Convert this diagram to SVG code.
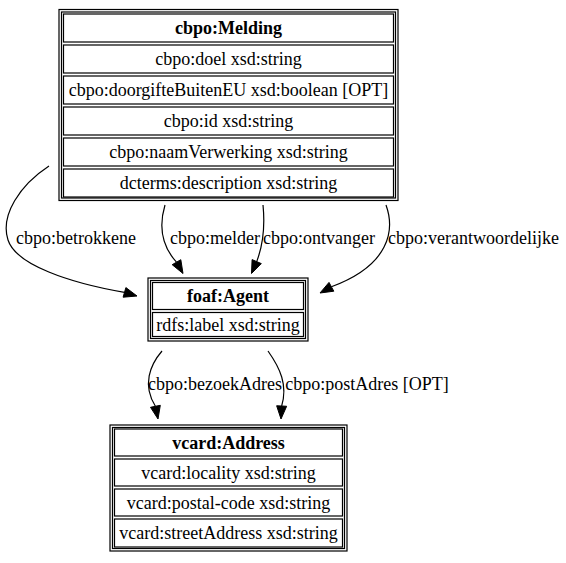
<svg xmlns="http://www.w3.org/2000/svg" width="566" height="563" viewBox="0 0 566 563">
<style>
text{font-family:"Liberation Serif","Times New Roman",serif;font-size:18px;fill:#000;text-anchor:middle}
.h{font-weight:bold}
.o{fill:#fff;stroke:#000;stroke-width:1.2}
.c{fill:none;stroke:#000;stroke-width:1.2}
.e{fill:none;stroke:#000;stroke-width:1.2}
.a{fill:#000;stroke:#000;stroke-width:1}
</style>
<rect width="566" height="563" fill="#fff"/>
<g id="melding">
<rect class="o" x="59" y="9.5" width="339" height="191"/>
<rect class="c" x="61.5" y="12" width="334" height="186"/>
<rect class="c" x="63.5" y="14" width="330" height="28"/>
<rect class="c" x="63.5" y="45" width="330" height="28"/>
<rect class="c" x="63.5" y="76" width="330" height="28"/>
<rect class="c" x="63.5" y="107" width="330" height="28"/>
<rect class="c" x="63.5" y="138" width="330" height="28"/>
<rect class="c" x="63.5" y="169" width="330" height="28"/>
<text class="h" x="228.5" y="34">cbpo:Melding</text>
<text x="228.5" y="65">cbpo:doel xsd:string</text>
<text x="228.5" y="96">cbpo:doorgifteBuitenEU xsd:boolean [OPT]</text>
<text x="228.5" y="127">cbpo:id xsd:string</text>
<text x="228.5" y="158">cbpo:naamVerwerking xsd:string</text>
<text x="228.5" y="189">dcterms:description xsd:string</text>
</g>
<g id="agent">
<rect class="o" x="148" y="278" width="160" height="63"/>
<rect class="c" x="150.5" y="280.5" width="155" height="58"/>
<rect class="c" x="152.5" y="282.5" width="151" height="27"/>
<rect class="c" x="152.5" y="312.5" width="151" height="24"/>
<text class="h" x="228" y="302">foaf:Agent</text>
<text x="228" y="331">rdfs:label xsd:string</text>
</g>
<g id="address">
<rect class="o" x="110" y="425" width="237" height="126"/>
<rect class="c" x="112.5" y="427.5" width="232" height="121"/>
<rect class="c" x="114.5" y="429" width="228" height="27"/>
<rect class="c" x="114.5" y="459" width="228" height="27"/>
<rect class="c" x="114.5" y="489" width="228" height="27"/>
<rect class="c" x="114.5" y="519" width="228" height="28"/>
<text class="h" x="228.5" y="448.5">vcard:Address</text>
<text x="228.5" y="478.5">vcard:locality xsd:string</text>
<text x="228.5" y="508.5">vcard:postal-code xsd:string</text>
<text x="228.5" y="539">vcard:streetAddress xsd:string</text>
</g>
<g id="connectors">
<path class="e" d="M49,166 C20,185 0,215 8,240 C16,265 70,283 124.5,292.4"/>
<polygon class="a" points="137,296 123.1,297.2 125.9,287.6"/>
<path class="e" d="M165,205 C159,225 161,245 176.5,262.2"/>
<polygon class="a" points="183,273.5 172.2,264.7 180.8,259.7"/>
<path class="e" d="M263,205 C265,225 263,245 256.7,261.6"/>
<polygon class="a" points="251.5,273.5 252.1,259.6 261.3,263.6"/>
<path class="e" d="M386,205 C395,230 390,265 331.4,286.8"/>
<polygon class="a" points="320,293 329,282.4 333.8,291.2"/>
<path class="e" d="M162,351 C150,365 142,385 155.4,406.3"/>
<polygon class="a" points="158,419 150.5,407.3 160.3,405.3"/>
<path class="e" d="M268,351 C280,368 288,385 281.65,406"/>
<polygon class="a" points="281,419 276.65,405.75 286.65,406.25"/>
<text x="76" y="244">cbpo:betrokkene</text>
<text x="215" y="244">cbpo:melder</text>
<text x="319" y="244">cbpo:ontvanger</text>
<text x="473.5" y="244">cbpo:verantwoordelijke</text>
<text x="215" y="390">cbpo:bezoekAdres</text>
<text x="367" y="390">cbpo:postAdres [OPT]</text>
</g>
</svg>
